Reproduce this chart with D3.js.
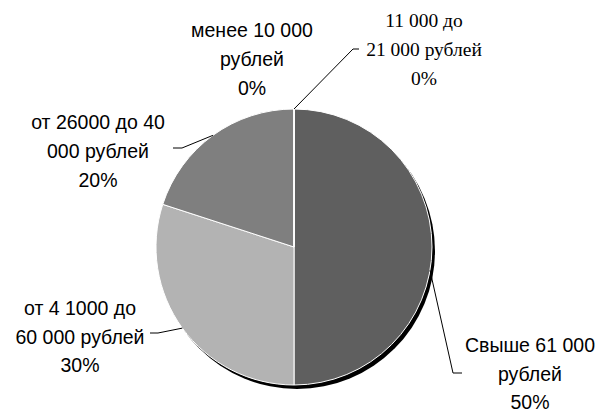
<!DOCTYPE html>
<html>
<head>
<meta charset="utf-8">
<script src="https://cdn.jsdelivr.net/npm/d3@7/dist/d3.min.js"></script>
<style>
  body { margin: 0; background: #fff; }
  svg { display: block; }
  .lbl { font-family: "Liberation Sans", Arial, sans-serif; font-size: 19.5px; fill: #000; }
  .lbl.serif { font-family: "Liberation Serif", "Times New Roman", serif; font-size: 19.5px; }
  .leader { fill: none; stroke: #000; stroke-width: 1; }
</style>
</head>
<body>
<svg width="599" height="414"></svg>
<script>
// slices in clockwise order, starting at 12 o'clock
const categories = [
  ['Свыше 61 000', 'рублей'],
  ['от 4 1000 до', '60 000 рублей'],
  ['от 26000 до 40', '000 рублей'],
  ['менее 10 000', 'рублей'],
  ['11 000 до', '21 000 рублей']
];
const shares = [50, 30, 20, 0, 0];
const pctLabels = ['50%', '30%', '20%', '0%', '0%'];
const colours = ['#5f5f5f', '#b3b3b3', '#7f7f7f', '#9a9a9a', '#4a4a4a'];

// label placement (layout only)
const labelLayout = [
  { x: 530, y: 352, step: 28.6, serif: false, elbow: [453, 373], end: [462, 373], shift: 0.17 },
  { x: 80,  y: 315, step: 28.6, serif: false, elbow: [158, 333], end: [150, 333], shift: 0 },
  { x: 98,  y: 129, step: 29,   serif: false, elbow: [182, 148], end: [173, 148], shift: 0 },
  { x: 252, y: 37,  step: 29,   serif: false, elbow: null, end: null, shift: 0 },
  { x: 424, y: 27,  step: 29,   serif: true,  elbow: [353, 49], end: [359, 49], shift: 0 }
];

const svg = d3.select('svg');
const cx = 294, cy = 247, r = 138;

const defs = svg.append('defs');
defs.append('filter').attr('id', 'blur')
  .append('feGaussianBlur').attr('stdDeviation', 0.6);

const g = svg.append('g').attr('transform', `translate(${cx},${cy})`);

// drop shadow
g.append('circle')
  .attr('cx', 3).attr('cy', 4).attr('r', r)
  .attr('fill', '#000')
  .attr('filter', 'url(#blur)');

const pie = d3.pie().sort(null).value(d => d)(shares);
const arc = d3.arc().innerRadius(0).outerRadius(r);

g.selectAll('path.slice').data(pie)
  .enter()
  .append('path')
    .attr('class', 'slice')
    .attr('d', arc)
    .attr('fill', (d, i) => colours[i])
    .attr('stroke', '#fff')
    .attr('stroke-width', 1);

// leader lines
pie.forEach((d, i) => {
  const L = labelLayout[i];
  if (!L.elbow) return;
  const a = (d.startAngle + d.endAngle) / 2 + L.shift;
  const sx = cx + r * Math.sin(a), sy = cy - r * Math.cos(a);
  svg.append('path')
    .attr('class', 'leader')
    .attr('d', d3.line()([[sx, sy], L.elbow, L.end]));
});

// labels
categories.forEach((lines, i) => {
  const L = labelLayout[i];
  const t = svg.append('text')
    .attr('class', L.serif ? 'lbl serif' : 'lbl')
    .attr('text-anchor', 'middle');
  lines.concat([pctLabels[i]]).forEach((s, k) => {
    t.append('tspan')
      .attr('x', L.x)
      .attr('y', L.y + k * L.step)
      .text(s);
  });
});
</script>
</body>
</html>
